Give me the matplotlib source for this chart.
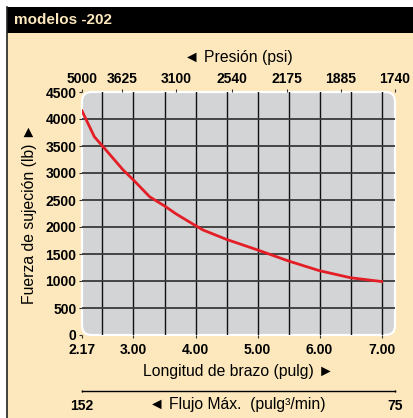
import numpy as np
import matplotlib.pyplot as plt
from matplotlib.patches import FancyBboxPatch, Rectangle
from matplotlib.lines import Line2D

# Curva de fuerza de sujecion vs longitud de brazo (modelos -202)
longitud = [2.17, 2.37, 2.50, 2.83, 3.00, 3.26, 3.50, 3.69, 4.00, 4.12, 4.50, 5.00, 5.50, 6.00, 6.50, 7.00]
fuerza = [4150, 3670, 3500, 3060, 2870, 2560, 2390, 2240, 2025, 1945, 1770, 1575, 1370, 1190, 1060, 990]

# Eje inferior
x_ticks = [2.17, 3.00, 4.00, 5.00, 6.00, 7.00]
x_labels = ['2.17', '3.00', '4.00', '5.00', '6.00', '7.00']
y_ticks = [0, 500, 1000, 1500, 2000, 2500, 3000, 3500, 4000, 4500]

# Eje superior: presion
pres_pos = [2.17, 2.81, 3.69, 4.58, 5.47, 6.34, 7.215]
pres_labels = ['5000', '3625', '3100', '2540', '2175', '1885', '1740']

# Eje de flujo maximo
flujo_pos = [2.17, 7.215]
flujo_labels = ['152', '75']

fondo = '#FCE8BC'
gris = '#D3D4D6'
rojo = '#E41E26'
fuente = 'Liberation Sans'

fig = plt.figure(figsize=(4.14, 4.18), dpi=100)
fig.patch.set_facecolor('white')

# marco beige y barra negra del titulo
W, H = 414, 418
fig.add_artist(Rectangle((7 / W, 0), 1, 1 - 7 / H, transform=fig.transFigure,
                         facecolor=fondo, edgecolor='none', zorder=0))
fig.add_artist(Rectangle((7 / W, 1 - 33 / H), 1, 26 / H, transform=fig.transFigure,
                         facecolor='black', edgecolor='none', zorder=1))
fig.add_artist(Line2D([7 / W, 7 / W], [0, 1 - 7 / H], transform=fig.transFigure,
                      color='#222222', lw=1.2, zorder=2))
fig.text(14 / W, 1 - 20 / H, 'modelos -202', family=fuente, weight='bold',
         fontsize=11, color=fondo, va='center', ha='left')

ax = fig.add_axes([82 / W, 1 - 335 / H, 313 / W, 243 / H])
ax.set_xlim(2.17, 7.215)
ax.set_ylim(0, 4500)
ax.patch.set_visible(False)
for s in ax.spines.values():
    s.set_visible(False)

caja = FancyBboxPatch((0, 0), 1, 1, boxstyle='round,pad=0,rounding_size=0.03',
                      transform=ax.transAxes, facecolor=gris, edgecolor='white',
                      lw=1.6, zorder=0, clip_on=False, mutation_aspect=313 / 243)
ax.add_patch(caja)

# cuadricula
for xv in np.arange(2.5, 7.01, 0.5):
    l = ax.axvline(xv, color='#111111', lw=1.0, zorder=1)
    l.set_clip_path(caja)
for yv in range(500, 4001, 500):
    l = ax.axhline(yv, color='#3a3a3a', lw=1.3, zorder=1)
    l.set_clip_path(caja)

ax.plot(longitud, fuerza, color=rojo, lw=2.0, zorder=3)

ax.set_xticks(x_ticks)
ax.set_xticklabels(x_labels)
ax.set_yticks(y_ticks)
ax.set_yticklabels([str(v) for v in y_ticks])
ax.tick_params(axis='both', length=2.5, width=0.8, color='#333333', pad=1.5,
               labelsize=10)
ax.tick_params(axis='x', pad=3)
for t in ax.get_xticklabels() + ax.get_yticklabels():
    t.set_family(fuente)
    t.set_weight('bold')

ax.set_xlabel('Longitud de brazo (pulg) \u25BA', family=fuente, fontsize=11.3, labelpad=5)
ax.set_ylabel('Fuerza de sujeción (lb) \u25BA', family=fuente, fontsize=11.3, labelpad=6)

# eje superior de presion
ax2 = ax.twiny()
ax2.set_xlim(ax.get_xlim())
ax2.set_xticks(pres_pos)
ax2.set_xticklabels(pres_labels)
ax2.tick_params(axis='x', length=2.5, width=0.8, color='#333333', pad=2, labelsize=10)
for t in ax2.get_xticklabels():
    t.set_family(fuente)
    t.set_weight('bold')
for s in ax2.spines.values():
    s.set_visible(False)
ax2.set_xlabel('\u25C4 Presión (psi)', family=fuente, fontsize=11.3, labelpad=7)

# eje inferior de flujo
ax3 = ax.twiny()
ax3.set_xlim(ax.get_xlim())
ax3.xaxis.set_ticks_position('bottom')
ax3.xaxis.set_label_position('bottom')
for k, s in ax3.spines.items():
    s.set_visible(k == 'bottom')
ax3.spines['bottom'].set_position(('outward', 40))
ax3.spines['bottom'].set_linewidth(1.0)
ax3.set_xticks(flujo_pos)
ax3.set_xticklabels(flujo_labels)
ax3.tick_params(axis='x', length=2, width=1.0, direction='inout', pad=5, labelsize=10)
for t in ax3.get_xticklabels():
    t.set_family(fuente)
    t.set_weight('bold')
fig.text(237 / W, 1 - 404 / H, '\u25C4 Flujo Máx.  (pulg³/min)', family=fuente,
         fontsize=11.3, ha='center', va='center')

fig.savefig('out.png', dpi=100, facecolor=fig.get_facecolor())
